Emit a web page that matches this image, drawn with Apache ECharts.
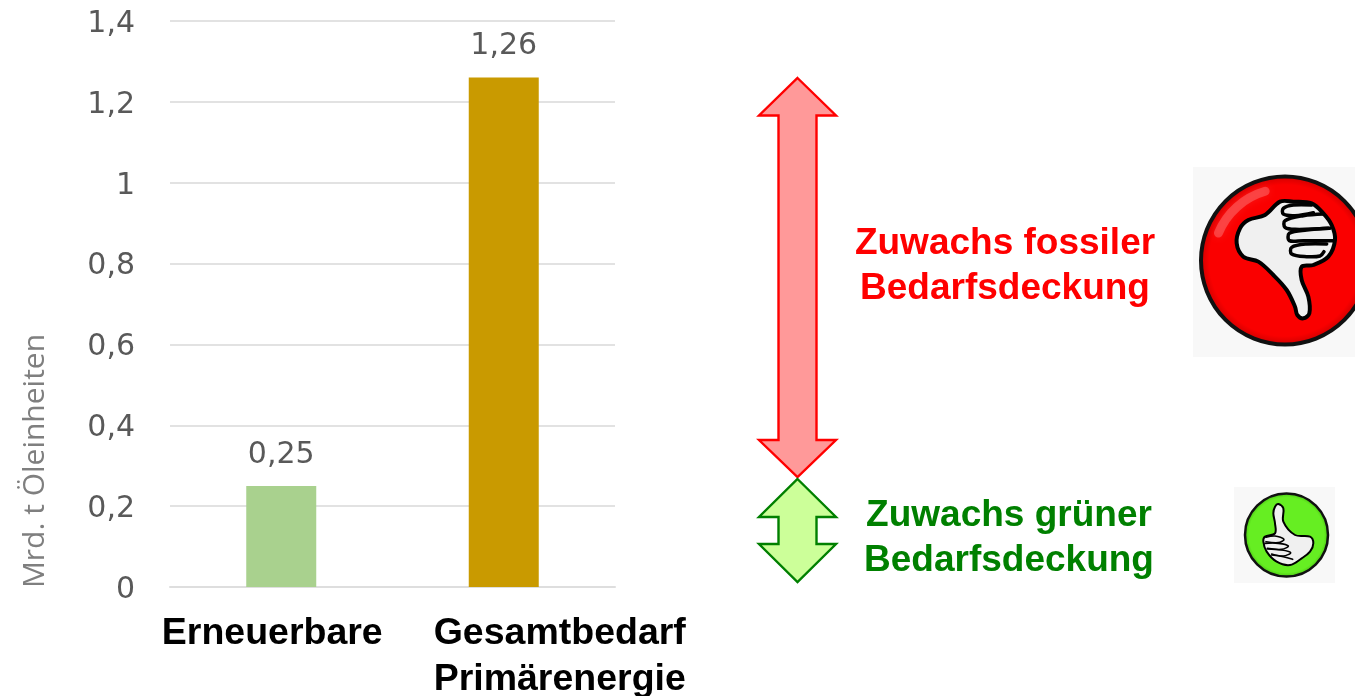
<!DOCTYPE html>
<html>
<head>
<meta charset="utf-8">
<style>
html,body{margin:0;padding:0;background:#fff}
#main{width:1355px;height:696px}
</style>
<script src="https://cdn.jsdelivr.net/npm/echarts@6/dist/echarts.min.js"></script>
</head>
<body>
<div id="main"></div>
<script>
var categories = ['Erneuerbare', 'Gesamtbedarf\nPrimärenergie'];
var values = [0.25, 1.26];
var barColors = ['#a9d18e', '#c99a00'];
var axisTitle = 'Mrd. t Öleinheiten';
var redNote = 'Zuwachs fossiler\nBedarfsdeckung';
var greenNote = 'Zuwachs grüner\nBedarfsdeckung';

function comma(v) {
	return String(v).replace('.', ',');
}

// double arrow, y1..y2 tips, head ends at h1 and h2
function arrow(y1, h1, h2, y2, fill, stroke) {
	var cx = 797.5;
	return {
		type: 'polygon',
		shape: {points: [
			[cx, y1], [cx + 38.5, h1], [cx + 19, h1], [cx + 19, h2], [cx + 38.5, h2],
			[cx, y2], [cx - 38.5, h2], [cx - 19, h2], [cx - 19, h1], [cx - 38.5, h1]
		]},
		style: {fill: fill, stroke: stroke, lineWidth: 2.4, lineJoin: 'miter'}
	};
}

// hand outlines were traced on 3x crops, so scale back down here
function traced(pts, ox, oy, k) {
	return pts.map(function (p) { return [ox + p[0] / k, oy + p[1] / k]; });
}
function handFill(pts, ox, oy, k, lw) {
	return {
		type: 'polygon',
		shape: {points: traced(pts, ox, oy, k), smooth: 0.35},
		style: {fill: '#f0f0f0', stroke: '#000', lineWidth: lw, lineJoin: 'round'}
	};
}
function handLine(pts, ox, oy, k, lw) {
	return {
		type: 'polyline',
		shape: {points: traced(pts, ox, oy, k), smooth: 0.35},
		style: {fill: null, stroke: '#000', lineWidth: lw, lineCap: 'round'}
	};
}
function badge(cx, cy, r, inner, outer, lw) {
	return {
		type: 'circle',
		shape: {cx: cx, cy: cy, r: r},
		style: {
			fill: new echarts.graphic.RadialGradient(0.5, 0.5, 0.5, [
				{offset: 0, color: inner}, {offset: 0.88, color: inner}, {offset: 1, color: outer}
			]),
			stroke: '#111', lineWidth: lw
		}
	};
}

var downHand = [[300,155],[255,195],[205,210],[180,235],[170,280],[190,320],[235,335],[280,375],[320,420],[345,470],[352,495],[370,505],[388,490],[385,440],[365,390],[365,350],[400,345],[445,320],[465,270],[455,225],[430,190],[395,160],[340,155]];
var downFingers = [
	[[395,165],[340,165],[310,175],[310,192],[345,197],[400,188]],
	[[430,192],[370,197],[315,212],[315,232],[345,238],[445,235]],
	[[450,235],[380,240],[328,250],[328,272],[370,272],[460,272]],
	[[440,282],[380,282],[335,292],[335,312],[380,320],[420,318],[432,305]]
];
var upHand = [[175,72],[190,85],[190,125],[225,165],[270,170],[280,190],[270,215],[245,235],[210,255],[170,245],[140,215],[130,185],[135,170],[165,160],[165,130],[160,100],[165,80]];
var upFingers = [
	[[138,172],[165,168],[192,178],[175,188],[138,185]],
	[[135,190],[175,190],[205,198],[185,208],[142,205]],
	[[142,207],[185,210],[212,218],[190,228],[155,222]],
	[[155,225],[190,230],[218,238]]
];

var notes = [
	arrow(78, 115.5, 440, 477, '#ff9999', '#ff0000'),
	arrow(479, 517, 544, 582, '#ccff99', '#008000'),
	{type: 'text', x: 1005, y: 266, style: {text: redNote, fill: '#ff0000', font: 'bold 37px "Liberation Sans"', align: 'center', verticalAlign: 'middle', lineHeight: 45}},
	{type: 'text', x: 1009, y: 538, style: {text: greenNote, fill: '#008000', font: 'bold 37px "Liberation Sans"', align: 'center', verticalAlign: 'middle', lineHeight: 45}},
	{type: 'rect', shape: {x: 1193, y: 167, width: 162, height: 190}, style: {fill: '#f8f8f8'}},
	badge(1285, 260.5, 84, '#fa0000', '#c80000', 4),
	{type: 'arc', shape: {cx: 1285, cy: 260.5, r: 72, startAngle: -2.75, endAngle: -1.85}, style: {fill: null, stroke: 'rgba(255,255,255,0.22)', lineWidth: 9, lineCap: 'round', shadowBlur: 8, shadowColor: 'rgba(255,255,255,0.4)'}},
	handFill(downHand, 1180, 150, 3, 4)
].concat(downFingers.map(function (f) { return handLine(f, 1180, 150, 3, 3.5); })).concat([
	{type: 'rect', shape: {x: 1234, y: 487, width: 101, height: 96}, style: {fill: '#f8f8f8'}},
	badge(1286.5, 535, 41.5, '#66ee22', '#44bb11', 2.5),
	handFill(upHand, 1220, 480, 3, 2),
	handLine(upFingers[0], 1220, 480, 3, 1.6),
	handLine(upFingers[1], 1220, 480, 3, 1.6),
	handLine(upFingers[2], 1220, 480, 3, 1.6),
	handLine(upFingers[3], 1220, 480, 3, 1.6)
]);

var chart = echarts.init(document.getElementById('main'));
chart.setOption({
	animation: false,
	backgroundColor: '#fff',
	grid: {left: 170, right: 740, top: 21, bottom: 109, outerBoundsMode: 'none'},
	xAxis: {
		type: 'category',
		data: categories,
		axisLine: {lineStyle: {color: '#dedede', width: 2}},
		axisTick: {show: false},
		axisLabel: {
			interval: 0,
			margin: 24,
			formatter: function (v) {
				var style = v === categories[0] ? 'a' : 'b';
				return v.split('\n').map(function (s) { return '{' + style + '|' + s + '}'; }).join('\n');
			},
			rich: {
				a: {fontFamily: 'Liberation Sans', fontWeight: 'bold', fontSize: 37.5, color: '#000', lineHeight: 46, padding: [0, 18, 0, 0]},
				b: {fontFamily: 'Liberation Sans', fontWeight: 'bold', fontSize: 37.5, color: '#000', lineHeight: 46, padding: [0, 0, 0, 112]}
			}
		}
	},
	yAxis: {
		type: 'value',
		min: 0,
		max: 1.4,
		interval: 0.2,
		name: axisTitle,
		nameLocation: 'middle',
		nameRotate: 90,
		nameGap: 120,
		nameTextStyle: {fontFamily: 'Open Sans', fontSize: 30, color: '#7f7f7f', padding: [0, 314, 0, 0]},
		axisLine: {show: false},
		axisTick: {show: false},
		axisLabel: {
			margin: 35,
			formatter: function (v) { return '{t|' + comma(v) + '}'; },
			rich: {
				t: {fontFamily: 'DejaVu Sans', fontSize: 30, color: '#595959', padding: [6, 0, 0, 0]}
			}
		},
		splitLine: {lineStyle: {color: '#e2e2e2', width: 2}}
	},
	series: [{
		type: 'bar',
		barWidth: 70,
		data: values.map(function (v, i) {
			return {value: v, itemStyle: {color: barColors[i]}};
		}),
		label: {
			show: true,
			position: 'top',
			distance: 16,
			fontFamily: 'DejaVu Sans',
			fontSize: 30,
			color: '#595959',
			formatter: function (p) { return comma(p.value); }
		}
	}],
	graphic: notes
});
</script>
</body>
</html>
